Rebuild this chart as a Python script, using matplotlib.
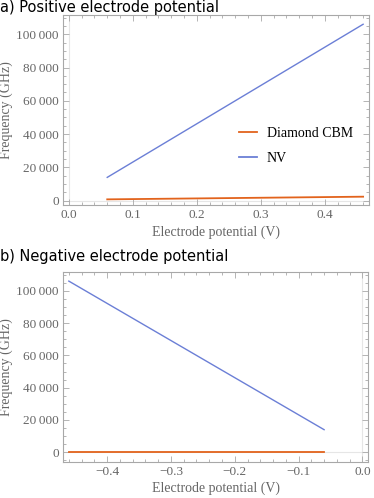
import matplotlib.pyplot as plt
from matplotlib.ticker import MultipleLocator, FuncFormatter

# panel a) positive potential
pos_v = [0.06, 0.46]
pos_nv = [14000, 106000]
pos_cbm = [800, 2400]

# panel b) negative potential
neg_v = [-0.46, -0.06]
neg_nv = [106000, 14000]
neg_cbm = [0, 0]

labels = ['Diamond CBM', 'NV']
orange = '#e2631c'
blue = '#6b7fd6'
gray = '#a8a8a8'
tick_gray = '#666666'
serif = ['Liberation Serif', 'DejaVu Serif']


def fmt_y(v, pos):
    s = f'{int(round(v)):,}'.replace(',', '\u2009')
    return s


def fmt_x(v, pos):
    s = f'{v:.1f}'
    if s == '-0.0':
        s = '0.0'
    return s.replace('-', '\u2212')


def style(ax):
    for sp in ax.spines.values():
        sp.set_color(gray)
        sp.set_linewidth(0.8)
    ax.xaxis.set_major_locator(MultipleLocator(0.1))
    ax.xaxis.set_minor_locator(MultipleLocator(0.02))
    ax.yaxis.set_major_locator(MultipleLocator(20000))
    ax.yaxis.set_minor_locator(MultipleLocator(5000))
    ax.xaxis.set_major_formatter(FuncFormatter(fmt_x))
    ax.yaxis.set_major_formatter(FuncFormatter(fmt_y))
    ax.tick_params(which='both', direction='in', top=True, right=True,
                   color=gray, width=0.6, labelcolor=tick_gray, labelsize=9.5, pad=3)
    ax.tick_params(which='major', length=4)
    ax.tick_params(which='minor', length=2)
    for lab in ax.get_xticklabels() + ax.get_yticklabels():
        lab.set_family(serif)
    ax.axvline(0, color='#e6e6e6', lw=0.8, zorder=0)
    ax.axhline(0, color='#e6e6e6', lw=0.8, zorder=0)
    ax.set_xlabel('Electrode potential (V)', family=serif, color=tick_gray, fontsize=10, labelpad=3)
    ax.set_ylabel('Frequency (GHz)', family=serif, color=tick_gray, fontsize=10, labelpad=2)


fig = plt.figure(figsize=(3.74, 4.98), dpi=100)

ax1 = fig.add_axes([0.168, 0.588, 0.819, 0.382])
ax1.plot(pos_v, pos_cbm, color=orange, lw=1.3, label=labels[0])
ax1.plot(pos_v, pos_nv, color=blue, lw=1.0, label=labels[1])
ax1.set_xlim(-0.0094, 0.4694)
ax1.set_ylim(-2700, 111600)
style(ax1)
leg = ax1.legend(loc='center left', bbox_to_anchor=(0.535, 0.31), frameon=False,
                 prop={'family': serif, 'size': 10}, handlelength=1.3,
                 handletextpad=0.7, labelspacing=0.85)
for ln in leg.get_lines():
    ln.set_linewidth(1.3)

ax2 = fig.add_axes([0.168, 0.073, 0.817, 0.381])
ax2.plot(neg_v, neg_cbm, color=orange, lw=1.3)
ax2.plot(neg_v, neg_nv, color=blue, lw=1.0)
ax2.set_xlim(-0.4694, 0.0094)
ax2.set_ylim(-5800, 111700)
style(ax2)

fig.text(0.0, 1.0, 'a) Positive electrode potential', fontsize=10.5, va='top', ha='left')
fig.text(0.0, 0.5, 'b) Negative electrode potential', fontsize=10.5, va='top', ha='left')

fig.savefig('out.png', dpi=100)
